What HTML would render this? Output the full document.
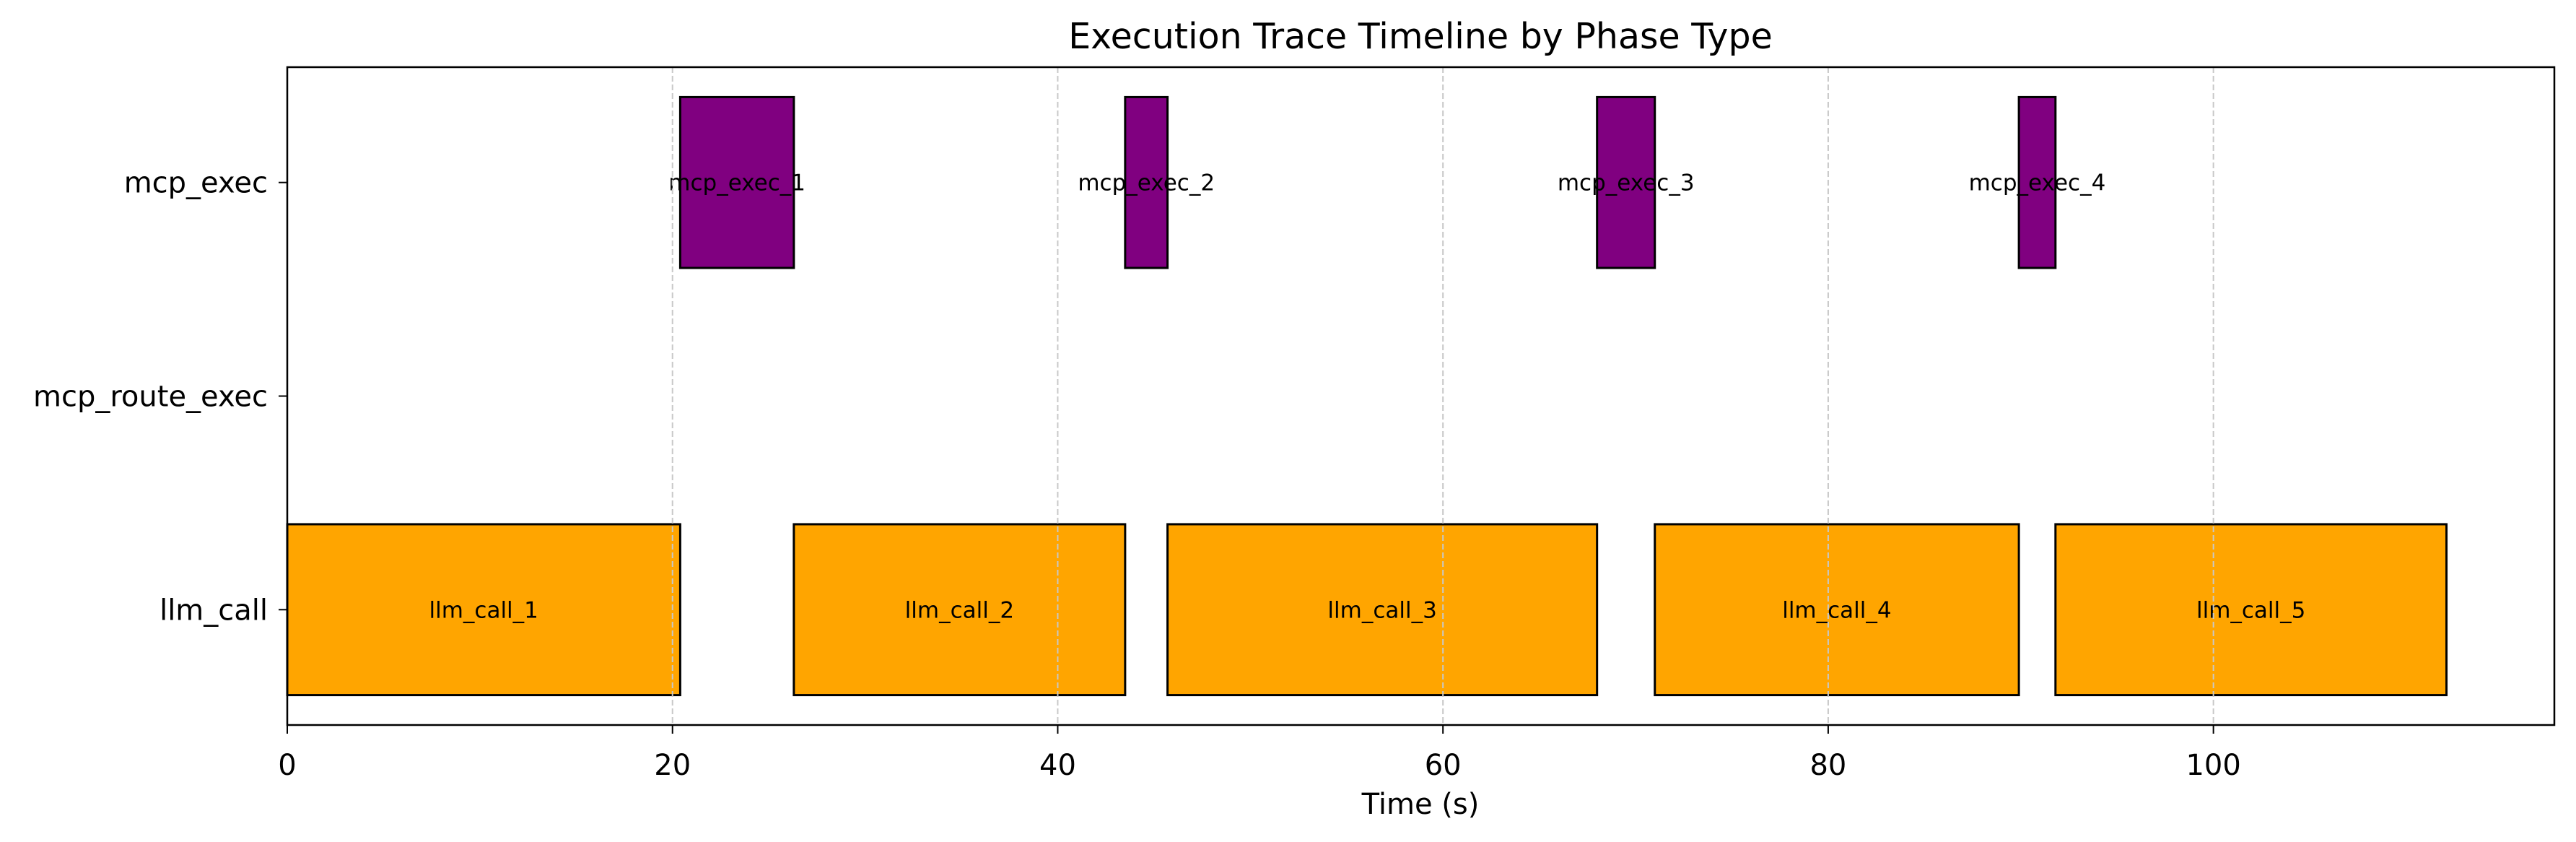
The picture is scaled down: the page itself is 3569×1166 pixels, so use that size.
<!DOCTYPE html>
<html><head><meta charset="utf-8"><style>
html,body{margin:0;padding:0;background:#fff;}
svg{display:block;font-family:"DejaVu Sans","Liberation Sans",sans-serif;}
</style></head><body>
<svg id="chart" width="3569" height="1166" viewBox="0 0 3569 1166" xmlns="http://www.w3.org/2000/svg">
<rect width="3569" height="1166" fill="#fff"/>
<text x="1968" y="67" font-size="49" text-anchor="middle">Execution Trace Timeline by Phase Type</text>
<g id="bars"></g>
<g id="grid"></g>
<g id="axes"></g>
<text x="1968" y="1127" font-size="40" text-anchor="middle">Time (s)</text>
</svg>
<script>
const categories = ["llm_call", "mcp_route_exec", "mcp_exec"];
const phaseNames = ["llm_call_1","mcp_exec_1","llm_call_2","mcp_exec_2","llm_call_3","mcp_exec_3","llm_call_4","mcp_exec_4","llm_call_5"];
const phaseTypes = ["llm_call","mcp_exec","llm_call","mcp_exec","llm_call","mcp_exec","llm_call","mcp_exec","llm_call"];
const phaseStarts = [0, 20.4, 26.3, 43.5, 45.7, 68.0, 71.0, 89.9, 91.8];
const phaseEnds = [20.4, 26.3, 43.5, 45.7, 68.0, 71.0, 89.9, 91.8, 112.1];
const xTicks = [0, 20, 40, 60, 80, 100];
const typeColors = {"llm_call":"#FFA500","mcp_exec":"#800080","mcp_route_exec":"#1f77b4"};

const NS = "http://www.w3.org/2000/svg";
const L = 398, R = 3539, T = 93, B = 1004;
const xMin = 0, xMax = 117.7, yMin = -0.54, yMax = 2.54;
const xs = v => L + (v - xMin) / (xMax - xMin) * (R - L);
const ys = v => B - (v - yMin) / (yMax - yMin) * (B - T);
function mk(tag, attrs, parent) {
  const e = document.createElementNS(NS, tag);
  for (const k in attrs) e.setAttribute(k, attrs[k]);
  parent.appendChild(e);
  return e;
}
const bars = document.getElementById("bars");
const grid = document.getElementById("grid");
const axes = document.getElementById("axes");

phaseNames.forEach((name, i) => {
  const ci = categories.indexOf(phaseTypes[i]);
  const x0 = xs(phaseStarts[i]), x1 = xs(phaseEnds[i]);
  const y0 = ys(ci + 0.4), y1 = ys(ci - 0.4);
  const r = mk("rect", {x: x0, y: y0, width: x1 - x0, height: y1 - y0, fill: typeColors[phaseTypes[i]], stroke: "#000", "stroke-width": 3}, bars);
  
  
  const t = mk("text", {x: (x0 + x1) / 2, y: ys(ci) + 11, "font-size": 31, "text-anchor": "middle"}, bars);
  t.textContent = name;
  
  
});

xTicks.forEach(v => {
  const x = xs(v);
  const g = mk("line", {x1: x, x2: x, y1: T, y2: B, stroke: "#c8c8c8", "stroke-width": 2, "stroke-dasharray": "8,4"}, grid);
  
  
  const tk = mk("line", {x1: x, x2: x, y1: B, y2: B + 12, stroke: "#000", "stroke-width": 2}, axes);
  
  
  const tl = mk("text", {x: x, y: B + 69, "font-size": 40, "text-anchor": "middle"}, axes);
  tl.textContent = v;
  
  
});

categories.forEach((c, i) => {
  const y = ys(i);
  const tk = mk("line", {x1: L - 12, x2: L, y1: y, y2: y, stroke: "#000", "stroke-width": 2}, axes);
  
  
  const tl = mk("text", {x: L - 27, y: y + 14, "font-size": 40, "text-anchor": "end"}, axes);
  tl.textContent = c;
  
  
});

const frame = mk("rect", {x: L, y: T, width: R - L, height: B - T, fill: "none", stroke: "#000", "stroke-width": 2.5}, axes);


</script>
</body></html>
